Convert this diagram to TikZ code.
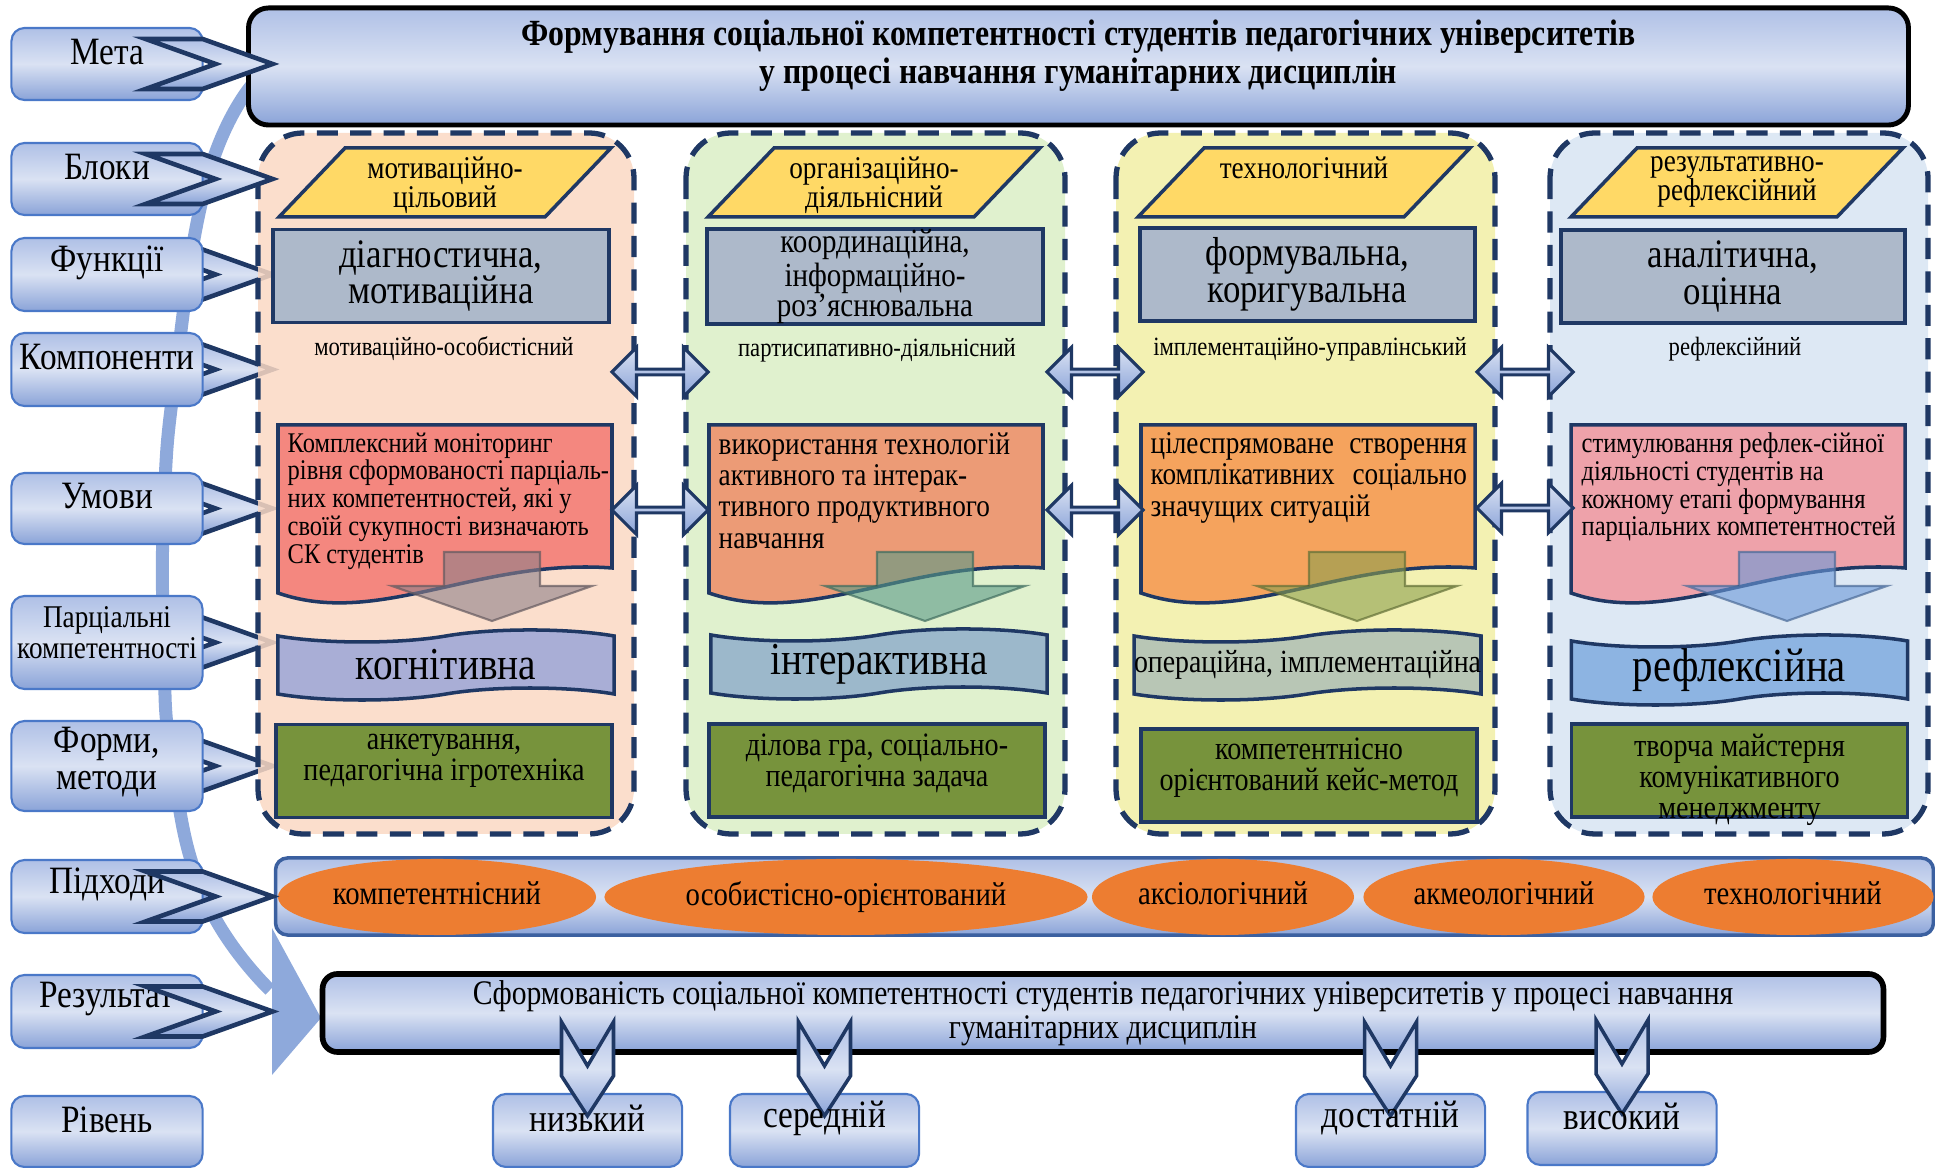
\documentclass[tikz,border=0pt]{standalone}
\usepackage{fontspec}
\setmainfont{Liberation Serif}[FakeStretch=0.86]
\usetikzlibrary{shapes.geometric,shapes.arrows,shapes.symbols,calc}
\pgfdeclarelayer{back}
\pgfsetlayers{back,main}

\definecolor{navy}{HTML}{1F3864}
\definecolor{bluetop}{HTML}{AFC0E6}
\definecolor{bluemid}{HTML}{DAE2F3}
\definecolor{bluebot}{HTML}{8AA3D8}
\definecolor{boxedge}{HTML}{4A78C8}
\definecolor{bandblue}{HTML}{8EA9DB}
\definecolor{gold}{HTML}{FFD966}
\definecolor{greybox}{HTML}{ADB9CA}
\definecolor{olive}{HTML}{77933C}
\definecolor{ellorange}{HTML}{ED7D31}
\definecolor{bgA}{HTML}{FAD8C3}
\definecolor{bgB}{HTML}{DBEFC6}
\definecolor{bgC}{HTML}{F1EFA4}
\definecolor{bgD}{HTML}{D7E4F2}
\definecolor{rdA}{HTML}{F4877F}
\definecolor{rdB}{HTML}{EC9B76}
\definecolor{rdC}{HTML}{F5A35D}
\definecolor{rdD}{HTML}{EEA2AA}
\definecolor{bnA}{HTML}{A9AED6}
\definecolor{bnB}{HTML}{9CB8CB}
\definecolor{bnC}{HTML}{B8C6B5}
\definecolor{bnD}{HTML}{8DB4E2}
\definecolor{arA}{HTML}{8E7F88}
\definecolor{arB}{HTML}{5A9A86}
\definecolor{arC}{HTML}{8C9F4E}
\definecolor{arD}{HTML}{6A98D8}

\begin{document}
\begin{tikzpicture}[x=0.01cm,y=-0.01cm]
    \tikzstyle{lbl}=[draw=boxedge,line width=0.6pt,rounded corners=0.13cm,top color=bluetop,bottom color=bluebot,middle color=bluemid,minimum width=1.91cm,inner sep=0pt]
    \tikzstyle{lbltxt}=[font=\fontsize{11}{10.5}\selectfont,align=center,inner sep=0pt]
    \tikzstyle{chev}=[draw=navy,line width=1.3pt,top color=bluetop,bottom color=bluebot,middle color=bluemid]
    \tikzstyle{colbox}=[draw=navy,line width=1.5pt,dash pattern=on 6pt off 3.5pt,rounded corners=0.45cm,fill opacity=0.85]
    \tikzstyle{para}=[draw=navy,line width=1pt,fill=gold]
    \tikzstyle{paratxt}=[font=\fontsize{9}{8.2}\selectfont,align=center,inner sep=0pt,anchor=north]
    \tikzstyle{funcbox}=[draw=navy,line width=1pt,fill=greybox,align=center,inner sep=0pt,minimum height=0.93cm,font=\fontsize{11.5}{10.4}\selectfont]
    \tikzstyle{comptxt}=[font=\fontsize{7.5}{8}\selectfont,inner sep=0pt]
    \tikzstyle{cond}=[draw=navy,line width=1pt]
    \tikzstyle{condtxt}=[align=left,inner sep=0pt,anchor=north west]
    \tikzstyle{bigarr}=[line width=0.6pt,fill opacity=0.6,draw opacity=0.7]
    \tikzstyle{wave}=[tape,draw=navy,line width=1pt,tape bend height=0.12cm,minimum height=0.7cm,minimum width=3.36cm,inner sep=0pt,font=\fontsize{13}{13}\selectfont]
    \tikzstyle{meth}=[draw=navy,line width=1pt,fill=olive,minimum height=0.93cm,minimum width=3.36cm]
    \tikzstyle{methtxt}=[font=\fontsize{9.3}{8.9}\selectfont,align=center,inner sep=0pt,anchor=north]
    \tikzstyle{dblarr}=[double arrow,draw=navy,line width=0.9pt,minimum height=0.96cm,minimum width=0.49cm,double arrow head extend=0.12cm,inner sep=0pt,top color=bluemid,bottom color=bluebot]
    \tikzstyle{ell}=[ellipse,fill=ellorange,minimum height=0.76cm,inner sep=0pt,font=\fontsize{9.5}{10}\selectfont]
    \tikzstyle{lvl}=[lbl,minimum width=1.89cm,minimum height=0.73cm]

    \useasboundingbox (0,0) rectangle (1935,1168);

    % left labels
    \foreach \n/\y/\h in {1/64/72, 2/179/72, 3/274.5/73, 4/369.5/73, 5/508.5/71, 6/642.5/93, 7/766/90, 8/896.5/73, 9/1011.5/73, 10/1131.5/71}
        \node[lbl,minimum height=\h*0.01cm] (L-\n) at (107,\y) {};
    \foreach \n/\t in {1/Мета, 2/Блоки, 3/Функції, 4/Компоненти, 5/Умови, 8/Підходи, 9/Результат, 10/Рівень}
        \node[lbltxt] (LT-\n) at ($(L-\n)+(0,-12)$) {\t};
    \node[lbltxt,font=\fontsize{9}{8.8}\selectfont] (LT-6) at ($(L-6)+(0,-10)$) {Парціальні\\компетентності};
    \node[lbltxt] (LT-7) at ($(L-7)+(0,-4)$) {Форми,\\методи};

    \begin{pgfonlayer}{back}
        \draw[bandblue,line width=0.13cm] plot[smooth,tension=0.8] coordinates {(252,85) (207,180) (176,370) (164,506) (164,644) (172,761) (205,898) (270,990)};
        \fill[bandblue] (272,928) -- (321,1018) -- (272,1075) -- cycle;
        \foreach \n in {3,...,7}
            \draw[chev] ($(L-\n.east)+(-58,-25)$) -- ++(57,0) -- ++(70,25) -- ++(-70,25) -- ++(-57,0) -- ++(70,-25) -- cycle;
    \end{pgfonlayer}

    % goal
    \node[draw=black,line width=1.4pt,rounded corners=0.2cm,top color=bluetop,bottom color=bluebot,middle color=bluemid,minimum width=16.59cm,minimum height=1.17cm] (G) at (1078.5,66.5) {};
    \node[font=\bfseries\fontsize{10.5}{10.8}\selectfont,align=center,inner sep=0pt] (G-t) at ($(G)+(0,-11)$) {Формування соціальної компетентності студентів педагогічних університетів\\у процесі навчання гуманітарних дисциплін};

    % blocks
    \foreach \l/\r/\c in {258/634/bgA, 686/1065/bgB, 1116/1495/bgC, 1550/1928/bgD}
        \draw[colbox,fill=\c] (\l,133) rectangle (\r,834);

    \foreach \n/\a/\t in {1/279/{мотиваційно-\\цільовий}, 2/708/{організаційно-\\діяльнісний}, 3/1138/{технологічний}, 4/1571/{результативно-\\рефлексійний}}{
        \draw[para] (\a,217) -- (\a+66,148) -- (\a+332,148) -- (\a+266,217) -- cycle;
        \node[paratxt] (B-\n) at (\a+166,156) {\t};
    }

    \node[funcbox,minimum width=3.36cm] (F-1) at (441,276) {діагностична,\\мотиваційна};
    \node[funcbox,minimum width=3.36cm,font=\fontsize{9.6}{8.6}\selectfont] (F-2) at (875,276.5) {координаційна,\\інформаційно-\\роз’яснювальна};
    \node[funcbox,minimum width=3.35cm] (F-3) at (1307.5,274.5) {формувальна,\\коригувальна};
    \node[funcbox,minimum width=3.44cm] (F-4) at (1733,276.5) {аналітична,\\оцінна};

    \node[comptxt] (K-1) at (444,349) {мотиваційно-особистісний};
    \node[comptxt] (K-2) at (877,350) {партисипативно-діяльнісний};
    \node[comptxt] (K-3) at (1310,349) {імплементаційно-управлінський};
    \node[comptxt] (K-4) at (1735,349) {рефлексійний};

    \foreach \l/\r/\c in {278/612/rdA, 709/1043/rdB, 1141/1475/rdC, 1571/1905/rdD}{
        \pgfmathsetmacro{\pa}{\l+0.3*(\r-\l)}
        \pgfmathsetmacro{\pb}{\l+0.6*(\r-\l)}
        \draw[cond,fill=\c] (\l,425) -- (\r,425) -- (\r,568) .. controls (\pb,558) and (\pa,628) .. (\l,593) -- cycle;
    }
    \node[condtxt,font=\fontsize{8.1}{7.9}\selectfont] (U-1) at (287,432) {Комплексний моніторинг\\рівня сформованості парціаль-\\них компетентностей, які у\\своїй сукупності визначають\\СК студентів};
    \node[condtxt,font=\fontsize{9}{8.9}\selectfont] (U-2) at (718,432) {використання технологій\\активного та інтерак-\\тивного продуктивного\\навчання};
    \node[condtxt,font=\fontsize{9}{8.9}\selectfont,text width=3.16cm,align=justify] (U-3) at (1150,432) {цілеспрямоване створення\linebreak комплікативних соціально\linebreak значущих ситуацій};
    \node[condtxt,font=\fontsize{8.1}{7.9}\selectfont] (U-4) at (1581,432) {стимулювання рефлек-сійної\\діяльності студентів на\\кожному етапі формування\\парціальних компетентностей};

    \foreach \cx/\c in {492/arA, 925/arB, 1357/arC, 1787/arD}
        \draw[bigarr,fill=\c,draw=\c!70!black] (\cx-48,552) -- (\cx+48,552) -- (\cx+48,586) -- (\cx+100,586) -- (\cx,621) -- (\cx-100,586) -- (\cx-48,586) -- cycle;

    \node[wave,fill=bnA] (W-1) at (446,665) {когнітивна};
    \node[wave,fill=bnB] (W-2) at (879,664) {інтерактивна};
    \node[wave,fill=bnC,font=\fontsize{9.2}{9}\selectfont] (W-3) at (1307.5,665) {операційна, імплементаційна};
    \node[wave,fill=bnD,font=\fontsize{13.5}{13}\selectfont] (W-4) at (1739.5,670) {рефлексійна};

    \foreach \n/\cx/\cy in {1/444/771, 2/877/770.5, 3/1309/775.5, 4/1739.5/770.5}
        \node[meth] (M-\n) at (\cx,\cy) {};
    \node[methtxt] (MT-1) at (444,733) {анкетування,\\педагогічна ігротехніка};
    \node[methtxt] (MT-2) at (877,733) {ділова гра, соціально-\\педагогічна задача};
    \node[methtxt] (MT-3) at (1309,737) {компетентнісно\\орієнтований кейс-метод};
    \node[methtxt] (MT-4) at (1739.5,733) {творча майстерня\\комунікативного\\менеджменту};

    \foreach \n/\cx/\cy in {1/660/372, 2/660/510, 3/1095/372, 4/1095/510, 5/1525/372, 6/1525/508}
        \node[dblarr] (D-\n) at (\cx,\cy) {};

    % approaches
    \node[draw=boxedge!80!black,line width=1pt,rounded corners=0.12cm,top color=bluetop,bottom color=bluebot,middle color=bluemid,minimum width=16.57cm,minimum height=0.77cm] (A-0) at (1104.5,896.5) {};
    \foreach \n/\cx/\w/\t in {1/437/3.18/компетентнісний, 2/846/4.83/особистісно-орієнтований, 3/1223/2.62/аксіологічний, 4/1504/2.81/акмеологічний, 5/1793/2.81/технологічний}
        \node[ell,minimum width=\w cm] (E-\n) at (\cx,897) {\raisebox{2pt}{\t}};

    % result and levels
    \node[draw=black,line width=1.6pt,rounded corners=0.15cm,top color=bluetop,bottom color=bluebot,middle color=bluemid,minimum width=15.6cm,minimum height=0.78cm,align=center,inner sep=0pt,font=\fontsize{9.8}{9.7}\selectfont] (R-0) at (1103,1013) {Сформованість соціальної компетентності студентів педагогічних університетів у процесі навчання\\гуманітарних дисциплін};

    \foreach \n/\cx/\cy in {1/587.5/1130.5, 2/824.5/1130.5, 3/1390.5/1130.5, 4/1622/1128.5}
        \node[lvl] (N-\n) at (\cx,\cy) {};
    \foreach \n in {1,...,4}
        \draw[chev,line width=1pt] ($(N-\n.north)+(-26,-71)$) -- ++(26,44) -- ++(26,-44) -- ++(0,54) -- ++(-26,40) -- ++(-26,-40) -- cycle;
    \foreach \n/\t in {1/низький, 2/середній, 3/достатній, 4/високий}
        \node[lbltxt] (NT-\n) at ($(N-\n)+(0,-12)$) {\t};

    \foreach \n in {1,2,8,9}
        \draw[chev] ($(L-\n.east)+(-58,-25)$) -- ++(57,0) -- ++(70,25) -- ++(-70,25) -- ++(-57,0) -- ++(70,-25) -- cycle;
\end{tikzpicture}
\end{document}
